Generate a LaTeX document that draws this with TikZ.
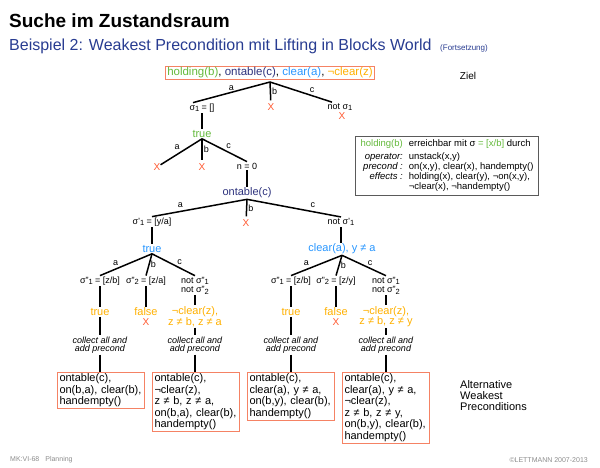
\documentclass[tikz,border=0pt]{standalone}
\usepackage{fontspec}
\setmainfont{Liberation Sans}
\usetikzlibrary{positioning}

\definecolor{okgreen}{RGB}{100,185,60}
\definecolor{navyblue}{RGB}{45,50,125}
\definecolor{lightblue}{RGB}{40,150,255}
\definecolor{amber}{RGB}{255,176,0}
\definecolor{crossred}{RGB}{255,90,50}
\definecolor{wpborder}{RGB}{245,130,100}
\definecolor{headblue}{RGB}{40,60,145}
\definecolor{infogray}{RGB}{90,90,90}
\definecolor{footgray}{RGB}{140,140,140}

\tikzset{
  tree/.style={font=\fontsize{11}{10.5}\selectfont, inner sep=1pt},
  subst/.style={font=\fontsize{9}{9.5}\selectfont, inner sep=1pt, align=center},
  branch/.style={line width=1.5pt},
  elbl/.style={font=\fontsize{9}{9}\selectfont, inner sep=1pt},
  failed/.style={text=crossred, font=\fontsize{10}{10}\selectfont, inner xsep=0pt, inner ysep=3pt},
  collect/.style={font=\fontsize{9}{8.5}\selectfont\itshape, align=center, inner sep=1pt},
  wpbox/.style={draw=wpborder, line width=1pt, anchor=north west, align=left,
    text width=83pt, inner xsep=2pt, inner ysep=1.5pt, font=\fontsize{11}{11.5}\selectfont}
}
\newcommand{\sub}[1]{\raisebox{-1.5pt}{\fontsize{7.5}{7.5}\selectfont #1}}

\begin{document}
\begin{tikzpicture}[x=1pt,y=-1pt]
  \useasboundingbox (0,0) rectangle (600,467);

  \node[font=\fontsize{19}{19}\selectfont\bfseries, anchor=base west, inner sep=0] (title) at (9,27) {Suche im Zustandsraum};
  \node[font=\fontsize{16}{16}\selectfont, text=headblue, anchor=base west, inner sep=0] (subtitle) at (9,50) {Beispiel 2: Weakest Precondition mit Lifting in Blocks World};
  \node[font=\fontsize{8}{8}\selectfont, text=headblue, anchor=base west, inner sep=0] (cont) at (440,50) {(Fortsetzung)};

  % Ziel
  \node[tree, font=\fontsize{11.5}{11.5}\selectfont, draw=wpborder, line width=1pt, inner xsep=2pt, inner ysep=1pt] (goal) at (270,73)
    {\textcolor{okgreen}{holding(b)}, \textcolor{navyblue}{ontable(c)}, \textcolor{lightblue}{clear(a)}, \textcolor{amber}{¬clear(z)}};
  \node[font=\fontsize{10}{10}\selectfont] (ziel) at (468,76) {Ziel};
  \coordinate (r0) at (270,82);

  \node[subst] (s1) at (202,108) {σ\sub{1} = []};
  \node[failed] (x1) at (271,107) {X};
  \node[subst] (ns1) at (340,107) {not σ\sub{1}};
  \node[failed] (x2) at (342,116) {X};
  \draw[branch] (r0) -- node[elbl, above] {a} ([xshift=-9pt]s1.north);
  \draw[branch] (r0) -- node[elbl, right] {b} (x1);
  \draw[branch] (r0) -- node[elbl, pos=.68, above=1.5pt] {c} ([xshift=-8pt]ns1.north);

  \node[tree, text=okgreen] (t1) at (202,134) {true};
  \draw[branch] (s1) -- (t1);
  \node[failed] (x3) at (157,167) {X};
  \node[failed] (x4) at (202,167) {X};
  \node[subst] (n0) at (247,166) {n = 0};
  \draw[branch] (t1.south) -- node[elbl, above left] {a} (x3);
  \draw[branch] (t1.south) -- node[elbl, right] {b} (x4);
  \draw[branch] (t1.south) -- node[elbl, above right] {c} (n0.north);

  \node[tree, text=navyblue] (oc) at (247,193) {ontable(c)};
  \draw[branch] (n0) -- (oc);
  \node[subst] (sp1) at (152,222) {σ'\sub{1} = [y/a]};
  \node[failed] (x5) at (246,223) {X};
  \node[subst] (nsp1) at (341,222) {not σ'\sub{1}};
  \draw[branch] (oc.south) -- node[elbl, pos=.7, above=2pt] {a} (sp1.north);
  \draw[branch] (oc.south) -- node[elbl, right] {b} (x5);
  \draw[branch] (oc.south) -- node[elbl, pos=.7, above=2pt] {c} (nsp1.north);

  \node[tree, text=lightblue] (t2) at (152,249) {true};
  \node[tree, text=lightblue] (ca) at (342,249) {clear(a), y ≠ a};
  \draw[branch] (sp1) -- (t2);
  \draw[branch] (nsp1.south) -- (nsp1.south |- ca.north);

  % linker Teilbaum
  \node[subst] (lp1) at (100,281) {σ''\sub{1} = [z/b]};
  \node[subst] (lp2) at (146,281) {σ''\sub{2} = [z/a]};
  \node[subst] (lnp) at (195,285.5) {not σ''\sub{1}\\not σ''\sub{2}};
  \draw[branch] (t2.south) -- node[elbl, pos=.7, above=2pt] {a} (lp1.north);
  \draw[branch] (t2.south) -- node[elbl, right] {b} (lp2.north);
  \draw[branch] (t2.south) -- node[elbl, pos=.64, above=1pt] {c} (lnp.north);

  \node[tree, text=amber] (lt) at (100,312) {true};
  \node[tree, text=amber] (lf) at (146,312) {false};
  \node[failed] (x6) at (146,322) {X};
  \node[tree, text=amber, align=center] (lnc) at (195,316.5) {¬clear(z),\\z ≠ b, z ≠ a};
  \draw[branch] (lp1) -- (lt);
  \draw[branch] (lp2) -- (lf);
  \draw[branch] (lnp) -- (lnc);

  \node[collect] (lc1) at (100,345) {collect all and\\add precond};
  \node[collect] (lc2) at (195,345) {collect all and\\add precond};
  \draw[branch] (lt) -- (lc1);
  \draw[branch] (lnc) -- (lc2);

  \node[wpbox] (w1) at (57,372) {ontable(c),\\on(b,a), clear(b),\\handempty()};
  \node[wpbox] (w2) at (152,372) {ontable(c),\\¬clear(z),\\z ≠ b, z ≠ a,\\on(b,a), clear(b),\\handempty()};
  \draw[branch] (lc1) -- (lc1.south |- w1.north);
  \draw[branch] (lc2) -- (lc2.south |- w2.north);

  % rechter Teilbaum
  \node[subst] (rp1) at (291,281) {σ''\sub{1} = [z/b]};
  \node[subst] (rp2) at (336,281) {σ''\sub{2} = [z/y]};
  \node[subst] (rnp) at (386,285.5) {not σ''\sub{1}\\not σ''\sub{2}};
  \draw[branch] (ca.south) -- node[elbl, pos=.7, above=2pt] {a} (rp1.north);
  \draw[branch] (ca.south) -- node[elbl, right] {b} (rp2.north);
  \draw[branch] (ca.south) -- node[elbl, pos=.64, above=1pt] {c} (rnp.north);

  \node[tree, text=amber] (rt) at (291,312) {true};
  \node[tree, text=amber] (rf) at (336,312) {false};
  \node[failed] (x7) at (336,322) {X};
  \node[tree, text=amber, align=center] (rnc) at (386,316.5) {¬clear(z),\\z ≠ b, z ≠ y};
  \draw[branch] (rp1) -- (rt);
  \draw[branch] (rp2) -- (rf);
  \draw[branch] (rnp) -- (rnc);

  \node[collect] (rc1) at (291,345) {collect all and\\add precond};
  \node[collect] (rc2) at (386,345) {collect all and\\add precond};
  \draw[branch] (rt) -- (rc1);
  \draw[branch] (rnc) -- (rc2);

  \node[wpbox] (w3) at (247,372) {ontable(c),\\clear(a), y ≠ a,\\on(b,y), clear(b),\\handempty()};
  \node[wpbox] (w4) at (342,372) {ontable(c),\\clear(a), y ≠ a,\\¬clear(z),\\z ≠ b, z ≠ y,\\on(b,y), clear(b),\\handempty()};
  \draw[branch] (rc1) -- (rc1.south |- w3.north);
  \draw[branch] (rc2) -- (rc2.south |- w4.north);

  \node[font=\fontsize{11}{11}\selectfont, align=left, anchor=north west, inner sep=0] (alt) at (460,380) {Alternative\\Weakest\\Preconditions};

  % Operator-Kasten
  \node[draw=infogray, line width=1.2pt, anchor=north west, inner xsep=5pt, inner ysep=3pt, font=\fontsize{9.5}{10}\selectfont] (info) at (355,136)
    {\begin{tabular}{@{}r@{\hspace{6pt}}l@{}}
      \textcolor{okgreen}{holding(b)} & erreichbar mit σ \textcolor{okgreen}{= [x/b]} durch\\[3pt]
      \textit{operator:} & unstack(x,y)\\
      \textit{precond :} & on(x,y), clear(x), handempty()\\
      \textit{effects :} & holding(x), clear(y), ¬on(x,y),\\
       & ¬clear(x), ¬handempty()
    \end{tabular}};

  \node[font=\fontsize{7}{7}\selectfont, text=footgray, anchor=west, inner sep=0] (foot) at (10,460) {MK:VI-68\hspace{6pt}Planning};
  \node[font=\fontsize{7}{7}\selectfont, text=footgray, anchor=east, inner sep=0] (copy) at (588,460) {©LETTMANN 2007-2013};
\end{tikzpicture}
\end{document}
